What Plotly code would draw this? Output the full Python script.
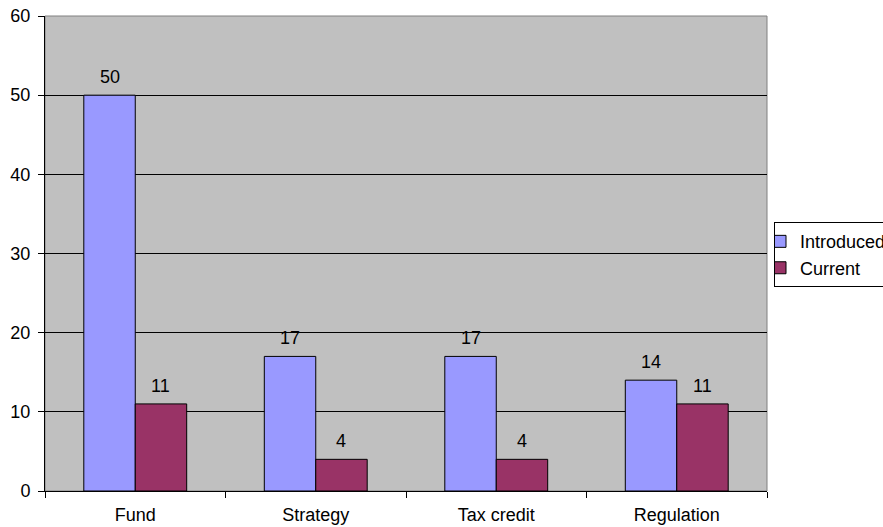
import plotly.graph_objects as go

categories = ["Fund", "Strategy", "Tax credit", "Regulation"]
introduced = [50, 17, 17, 14]
current = [11, 4, 4, 11]

FONT = "Arial, Liberation Sans"
FS = 18
BARGAP = 0.43

fig = go.Figure()
fig.add_trace(go.Bar(name="Introduced", x=categories, y=introduced,
                     marker=dict(color="#9999FF", line=dict(color="black", width=1))))
fig.add_trace(go.Bar(name="Current", x=categories, y=current,
                     marker=dict(color="#993366", line=dict(color="black", width=1))))

# value labels above bars, placed at the group offsets on the category axis
half = (1 - BARGAP) / 4
for series, off in ((introduced, -half), (current, half)):
    for i, v in enumerate(series):
        fig.add_annotation(x=i + off, y=v, text=str(v), showarrow=False,
                           yanchor="bottom", yshift=6,
                           font=dict(family=FONT, size=FS, color="black"))

fig.update_layout(
    width=883, height=527,
    margin=dict(l=45, r=116, t=16, b=36, autoexpand=False),
    paper_bgcolor="white", plot_bgcolor="#C0C0C0",
    barmode="group", bargap=BARGAP, bargroupgap=0,
    font=dict(family=FONT, size=FS, color="black"),
    showlegend=True,
    legend=dict(x=1.0097, y=0.566, xanchor="left", yanchor="top",
                bgcolor="white", bordercolor="black", borderwidth=1,
                font=dict(size=FS), itemwidth=30, tracegroupgap=0,
                indentation=-15),
    shapes=[dict(type="rect", xref="paper", yref="paper", x0=0, x1=1, y0=0, y1=1,
                 line=dict(color="#808080", width=1), layer="below")],
)
fig.update_yaxes(range=[0, 60], dtick=10, showgrid=True, gridcolor="black", gridwidth=1,
                 showline=True, linecolor="black", linewidth=1, ticks="outside",
                 ticklen=6, tickcolor="black", zeroline=False, fixedrange=True,
                 ticklabelstandoff=4)
fig.update_xaxes(showline=True, linecolor="black", linewidth=1, ticks="outside",
                 tickson="boundaries", ticklen=6, tickcolor="black", showgrid=False,
                 ticklabelstandoff=7)

fig.write_html("out.html")
